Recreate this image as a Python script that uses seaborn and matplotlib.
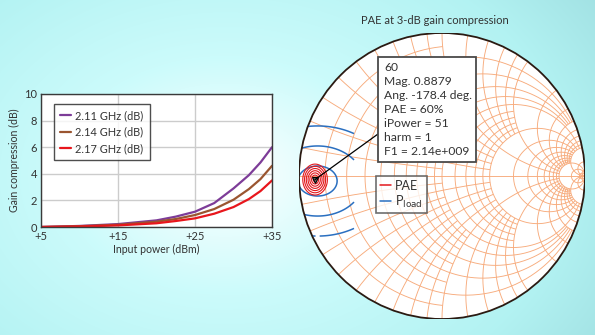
import numpy as np
import pandas as pd
import matplotlib
matplotlib.use("Agg")
import matplotlib.pyplot as plt
from matplotlib.lines import Line2D
from matplotlib.patches import Rectangle, Circle
import seaborn as sns

# ---------------- data: gain compression vs input power ----------------
input_power_dbm = [5, 10, 15, 20, 22.5, 25, 27.5, 30, 32, 33.5, 35]
series_labels = ["2.11 GHz (dB)", "2.14 GHz (dB)", "2.17 GHz (dB)"]
gain_comp_211 = [0.0, 0.08, 0.22, 0.50, 0.78, 1.15, 1.80, 2.90, 3.90, 4.85, 6.0]
gain_comp_214 = [0.0, 0.06, 0.17, 0.40, 0.60, 0.90, 1.35, 2.05, 2.85, 3.60, 4.6]
gain_comp_217 = [0.0, 0.04, 0.12, 0.28, 0.45, 0.65, 1.00, 1.50, 2.10, 2.70, 3.5]
x_ticks = [5, 15, 25, 35]
x_tick_labels = ["+5", "+15", "+25", "+35"]
y_ticks = [0, 2, 4, 6, 8, 10]

# ---------------- data: load-pull on the Smith chart ----------------
pae_opt_mag = 0.8879
pae_opt_ang_deg = -178.4
pae_max = 60
pae_levels = [46, 48, 50, 52, 54, 56, 58]
pload_peak = 43.0
pload_peak_gamma = (-0.87, -0.035)
pload_levels = [37.5, 39.5, 41.5]
annotation_lines = ["60", "Mag. 0.8879", "Ang. -178.4 deg.", "PAE = 60%",
                    "iPower = 51", "harm = 1", "F1 = 2.14e+009"]
smith_legend = ["PAE", "P$_{\\mathrm{load}}$"]
title_text = "PAE at 3-dB gain compression"

# ---------------- style ----------------
sns.set_style("white")
plt.rcParams["font.family"] = ["Lato", "DejaVu Sans"]
TXT = "#333333"
line_colors = ["#7d3c98", "#9a5530", "#e8161c"]
GRID_OR = "#f7ab7c"
PAE_C = "#e3171c"
PLOAD_C = "#2a6fc0"

W, H = 595, 335
fig = plt.figure(figsize=(W / 100, H / 100), dpi=100)

# background gradient
bg = fig.add_axes([0, 0, 1, 1], zorder=-10)
yy, xx = np.mgrid[0:H, 0:W]
d = np.sqrt(((xx - 225) / 360.0) ** 2 + ((yy - 175) / 260.0) ** 2)
stops = [0.0, 0.45, 0.95, 1.35]
cols = np.array([[1.0, 1.0, 1.0], [0.80, 0.985, 0.985], [0.70, 0.95, 0.95], [0.61, 0.86, 0.87]])
img = np.dstack([np.interp(d, stops, cols[:, k]) for k in range(3)])
bg.imshow(img, extent=[0, W, H, 0], aspect="auto")
bg.set_xlim(0, W); bg.set_ylim(H, 0)
bg.axis("off")

def fx(px):
    return px / W

def fy(py):
    return 1 - py / H

# ---------------- left: gain compression ----------------
ax1 = fig.add_axes([fx(41), fy(227), (272 - 41) / W, (227 - 94) / H])
n = len(input_power_dbm)
df = pd.DataFrame({
    "power": input_power_dbm * 3,
    "gc": gain_comp_211 + gain_comp_214 + gain_comp_217,
    "freq": [series_labels[0]] * n + [series_labels[1]] * n + [series_labels[2]] * n,
})
sns.lineplot(data=df, x="power", y="gc", hue="freq", hue_order=series_labels,
             palette=line_colors, linewidth=1.6, ax=ax1, legend=False)
ax1.set_xlim(5, 35)
ax1.set_ylim(0, 10)
ax1.set_xticks(x_ticks)
ax1.set_xticklabels(x_tick_labels)
ax1.set_yticks(y_ticks)
ax1.grid(True, color="#cccccc", linewidth=1.0)
ax1.set_axisbelow(True)
ax1.set_facecolor("white")
for s in ax1.spines.values():
    s.set_color("#3a3a3a"); s.set_linewidth(1.0)
ax1.tick_params(axis="both", length=0, pad=3, labelsize=8, labelcolor=TXT)
ax1.set_xlabel("Input power (dBm)", fontsize=7.6, color=TXT, labelpad=1)
ax1.set_ylabel("Gain compression (dB)", fontsize=7.6, color=TXT, labelpad=3)
handles = [Line2D([], [], color=c, lw=1.6) for c in line_colors]
leg1 = ax1.legend(handles, series_labels, loc="upper left", bbox_to_anchor=(0.056, 0.925),
                  borderaxespad=0, frameon=True, fancybox=False, fontsize=7.9,
                  handlelength=1.0, handletextpad=0.4, labelspacing=0.5, borderpad=0.55,
                  labelcolor=TXT)
leg1.get_frame().set_edgecolor("#222222")
leg1.get_frame().set_linewidth(1.0)

# ---------------- right: Smith chart ----------------
CX, CY, R = 442, 176, 143
ax2 = fig.add_axes([fx(CX - R), fy(CY + R), 2 * R / W, 2 * R / H])
ax2.set_xlim(-1, 1); ax2.set_ylim(-1, 1)
ax2.axis("off")
ax2.patch.set_alpha(0)
ax2.add_patch(Circle((0, 0), 1, facecolor="white", edgecolor="none", zorder=0))

INF = np.inf

def r_curve(r, xmax, npts=500):
    lim = np.pi / 2 * 0.99995 if np.isinf(xmax) else np.arctan(xmax)
    xv = np.tan(np.linspace(-lim, lim, npts))
    g = (r + 1j * xv - 1) / (r + 1j * xv + 1)
    return g.real, g.imag

def x_curve(x, rmin, rmax, npts=500):
    hi = np.pi / 2 * 0.99995 if np.isinf(rmax) else np.arctan(rmax)
    rv = np.tan(np.linspace(np.arctan(rmin), hi, npts))
    g = (rv + 1j * x - 1) / (rv + 1j * x + 1)
    return g.real, g.imag

r_grid = [(0.1, 1), (0.2, 5), (0.3, 1), (0.4, 5), (0.5, 1), (0.6, 5), (0.7, 1), (0.8, 5),
          (0.9, 1), (1.0, 10), (1.2, 2), (1.4, 2), (1.6, 2),
          (1.8, 2), (2.0, 10), (3, 10), (4, 10), (5, 10), (6, 10), (7, 10), (8, 10), (9, 10),
          (10, INF), (20, INF), (50, INF)]
x_grid = [(0.1, 1), (0.2, 2), (0.3, 1), (0.4, 2), (0.5, 1), (0.6, 2), (0.7, 1), (0.8, 2),
          (0.9, 1), (1.0, 10), (1.2, 2), (1.4, 2), (1.6, 2),
          (1.8, 2), (2.0, 10), (3, 10), (4, 10), (5, 10), (6, 10), (7, 10), (8, 10), (9, 10),
          (10, INF), (20, INF), (50, INF)]
gkw = dict(color=GRID_OR, lw=0.65, zorder=1, solid_capstyle="butt")
for r, xm in r_grid:
    gx, gy = r_curve(r, xm)
    ax2.plot(gx, gy, **gkw)
for x, rm in x_grid:
    for sgn in (1, -1):
        gx, gy = x_curve(sgn * x, 0, rm)
        ax2.plot(gx, gy, **gkw)
ax2.plot([-1, 1], [0, 0], **gkw)

# contour fields
gre, gim = np.meshgrid(np.linspace(-1.0, -0.45, 500), np.linspace(-0.5, 0.5, 500))
outside = gre ** 2 + gim ** 2 > 0.998
opt = pae_opt_mag * np.exp(1j * np.deg2rad(pae_opt_ang_deg))
rho_pae = np.sqrt(((gre - opt.real) / 0.086) ** 2 + ((gim - opt.imag) / 0.108) ** 2)
pae = pae_max - (pae_max - pae_levels[0]) * rho_pae
pae = np.ma.masked_where(outside, pae)

rho_pl = np.sqrt(((gre - pload_peak_gamma[0]) / 1.3) ** 2 + (gim - pload_peak_gamma[1]) ** 2)
pload = pload_peak - (pload_peak - pload_levels[-1]) / 0.105 * rho_pl
dom = outside | (gre > -0.615) | (gim > 0.37) | (gim < -0.42)
pload = np.ma.masked_where(dom, pload)

ax2.contour(gre, gim, pload, levels=pload_levels, colors=PLOAD_C, linewidths=1.1, zorder=3)
ax2.contour(gre, gim, pae, levels=pae_levels, colors=PAE_C, linewidths=0.8, zorder=4)

ax2.add_patch(Circle((0, 0), 1, facecolor="none", edgecolor="#2a1a12", lw=1.3, zorder=5))
ax2.plot([opt.real], [opt.imag], marker="v", ms=4.5, mfc="#666666", mec="black", mew=0.8,
         zorder=6, linestyle="none")

def gpx(px, py):
    return (px - CX) / R, (CY - py) / R

# annotation box with leader
bx0, by0 = gpx(378, 162)
bx1, by1 = gpx(476, 57)
ax2.add_patch(Rectangle((bx0, by0), bx1 - bx0, by1 - by0, facecolor="white",
                        edgecolor="#4a4a4a", lw=1.3, zorder=7))
lx, ly = gpx(378, 134)
ax2.plot([opt.real, lx], [opt.imag, ly], color="black", lw=0.9, zorder=6)
for i, t in enumerate(annotation_lines):
    tx, ty = gpx(384, 68 + i * 13.95)
    ax2.text(tx, ty, t, ha="left", va="center", fontsize=8.7, color=TXT, zorder=8)

sh = [Line2D([], [], color=PAE_C, lw=1.1), Line2D([], [], color=PLOAD_C, lw=1.1)]
leg2 = ax2.legend(sh, smith_legend, loc="upper left", bbox_to_anchor=((376 - 299) / 286, 0.5),
                  borderaxespad=0, frameon=True, fancybox=False, fontsize=9,
                  handlelength=0.9, handletextpad=0.35, labelspacing=0.15, borderpad=0.3,
                  labelcolor=TXT)
leg2.get_frame().set_edgecolor("#4a4a4a")
leg2.get_frame().set_linewidth(1.2)
leg2.set_zorder(9)

fig.text(fx(435), fy(20), title_text, ha="center", va="center", fontsize=8, color=TXT)

fig.savefig("out.png", dpi=100)
